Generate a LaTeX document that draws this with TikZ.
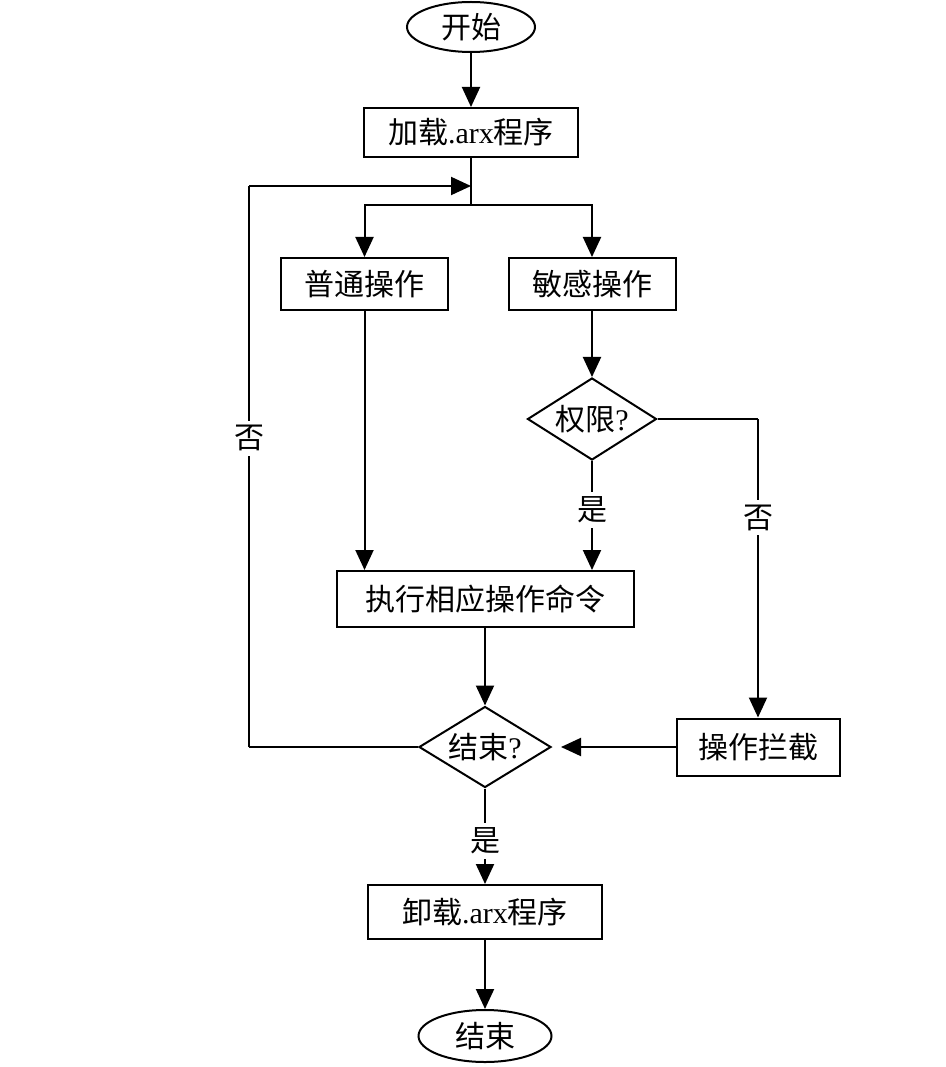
\documentclass[tikz,border=0pt]{standalone}
\usepackage{fontspec}
\setmainfont{Liberation Serif}
\newfontfamily\cjk{Noto Sans CJK SC}
\usetikzlibrary{arrows.meta,shapes.geometric}
\tikzset{
  every node/.style={font=\fontsize{30}{33}\selectfont},
  box/.style={draw, line width=2pt, rectangle, inner sep=0pt},
  term/.style={draw, line width=2pt, ellipse, inner sep=0pt},
  decide/.style={draw, line width=2pt, diamond, inner sep=0pt},
  conn/.style={line width=2pt},
  arr/.style={line width=2pt, -{Triangle[length=20pt,width=18pt]}},
  lbl/.style={fill=white, inner sep=5pt}
}
\begin{document}
\begin{tikzpicture}[x=1pt,y=-1pt]
\useasboundingbox (0,0) rectangle (945,1067);
\node[term, minimum width=128pt, minimum height=50pt] (start) at (471,27) {{\cjk 开始}};
\node[box, minimum width=214pt, minimum height=49pt] (load) at (471,132.5) {{\cjk 加载}.arx{\cjk 程序}};
\node[box, minimum width=167pt, minimum height=52pt] (normal) at (364.5,284) {{\cjk 普通操作}};
\node[box, minimum width=167pt, minimum height=52pt] (sens) at (592,284) {{\cjk 敏感操作}};
\node[decide, minimum width=129pt, minimum height=82pt, label={center:{\cjk 权限}?}] (perm) at (592,419) {};
\node[box, minimum width=297pt, minimum height=56pt] (exec) at (485,599) {{\cjk 执行相应操作命令}};
\node[decide, minimum width=132pt, minimum height=81pt, label={center:{\cjk 结束}?}] (done) at (485,747) {};
\node[box, minimum width=163pt, minimum height=57pt] (block) at (758,747) {{\cjk 操作拦截}};
\node[box, minimum width=234pt, minimum height=54pt] (unload) at (485,912) {{\cjk 卸载}.arx{\cjk 程序}};
\node[term, minimum width=133pt, minimum height=52pt] (end) at (485,1036) {{\cjk 结束}};
\coordinate (split) at (471,205);
\coordinate (merge) at (471,186);
\coordinate (loopbl) at (249,747);
\coordinate (looptl) at (249,186);
\coordinate (permr) at (758,419);
% connectors
\draw[arr] (start) -- (load);
\draw[conn] (load.south) -- (split);
\draw[arr] (split) -| (normal.north);
\draw[arr] (split) -| (sens.north);
\draw[arr] (sens) -- (perm);
\draw[arr] (normal.south) -- (normal.south |- exec.north);
\draw[arr] (perm.south) -- node[lbl, pos=0.45] {\cjk 是} (perm.south |- exec.north);
\draw[conn] (perm.east) -- (permr);
\draw[arr] (permr) -- node[lbl, pos=0.33] {\cjk 否} (block.north);
\draw[arr] (exec) -- (done);
\draw[arr, shorten >=9pt] (block.west) -- (done.east);
\draw[conn] (done.west) -- (loopbl);
\draw[conn] (loopbl) -- node[lbl, pos=0.55] {\cjk 否} (looptl);
\draw[arr] (looptl) -- (merge);
\draw[arr] (done.south) -- node[lbl, pos=0.55] {\cjk 是} (unload.north);
\draw[arr] (unload) -- (end);
\end{tikzpicture}
\end{document}
